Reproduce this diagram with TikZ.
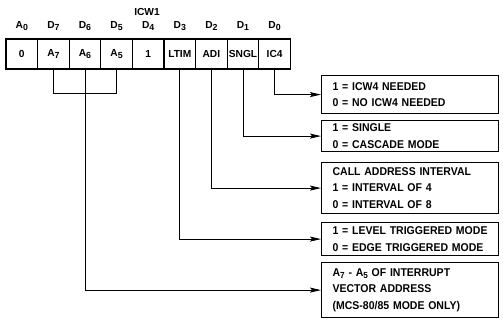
\documentclass[tikz,border=0pt]{standalone}
\usepackage{fontspec}
\setmainfont{Liberation Sans}
\newfontfamily\boxfont{Liberation Sans}[FakeStretch=0.93]
\usetikzlibrary{arrows.meta}
\newcommand{\lsub}[1]{\raisebox{-0.35ex}{\fontsize{8.8}{9}\selectfont #1}}
\tikzset{
  cell/.style={draw, line width=1.2pt, minimum width=31.6pt, minimum height=30pt, inner sep=0pt,
    font=\fontsize{10.2}{12}\selectfont\bfseries},
  hdr/.style={inner sep=0pt, font=\fontsize{10.2}{12}\selectfont\bfseries},
  infobox/.style={draw, line width=1.2pt, anchor=north west, minimum width=177pt,
    text width=155pt, inner xsep=11pt, inner ysep=0pt, align=left,
    font=\boxfont\fontsize{11.3}{16.5}\selectfont\bfseries},
  link/.style={line width=0.9pt},
  arr/.style={line width=0.9pt, -{Stealth[length=11pt,width=5pt,inset=2pt]}}
}
\begin{document}
\begin{tikzpicture}[x=1pt,y=-1pt]
\useasboundingbox (0,0) rectangle (503,321);
% register cells
\node[cell] (c0) at (21.8,54) {0};
\node[cell] (a7) at (53.4,54) {A\lsub{7}};
\node[cell] (a6) at (85,54) {A\lsub{6}};
\node[cell] (a5) at (116.6,54) {A\lsub{5}};
\node[cell] (d4) at (148.2,54) {1};
\node[cell] (ltim) at (179.8,54) {LTIM};
\node[cell] (adi) at (211.4,54) {ADI};
\node[cell] (sngl) at (243,54) {SNGL};
\node[cell] (ic4) at (274.6,54) {IC4};
% headers
\node[hdr] (icw) at (147,12) {ICW1};
\node[hdr] (h0) at (21.8,26) {A\lsub{0}};
\node[hdr] (h7) at (53.4,26) {D\lsub{7}};
\node[hdr] (h6) at (85,26) {D\lsub{6}};
\node[hdr] (h5) at (116.6,26) {D\lsub{5}};
\node[hdr] (h4) at (148.2,26) {D\lsub{4}};
\node[hdr] (h3) at (179.8,26) {D\lsub{3}};
\node[hdr] (h2) at (211.4,26) {D\lsub{2}};
\node[hdr] (h1) at (243,26) {D\lsub{1}};
\node[hdr] (hz) at (274.6,26) {D\lsub{0}};
% info boxes
\node[infobox, minimum height=38pt] (b1) at (321,75) {1 = ICW4 NEEDED\\0 = NO ICW4 NEEDED};
\node[infobox, minimum height=31pt] (b2) at (321,120) {1 = SINGLE\\0 = CASCADE MODE};
\node[infobox, minimum height=51pt] (b3) at (321,162) {CALL ADDRESS INTERVAL\\1 = INTERVAL OF 4\\0 = INTERVAL OF 8};
\node[infobox, minimum height=33pt] (b4) at (321,222) {1 = LEVEL TRIGGERED MODE\\0 = EDGE TRIGGERED MODE};
\node[infobox, minimum height=55pt] (b5) at (321,262) {A\lsub{7} - A\lsub{5} OF INTERRUPT\\VECTOR ADDRESS\\(MCS-80/85 MODE ONLY)};
% connectors
\draw[arr] (ic4.south) |- (b1.west);
\draw[arr] (sngl.south) |- (b2.west);
\draw[arr] (adi.south) |- (b3.west);
\draw[arr] (ltim.south) |- (b4.west);
\draw[link] (a7.south) -- ++(0,24) coordinate (brk) -| (a5.south);
\draw[arr] (a6.south) |- (b5.west);
\end{tikzpicture}
\end{document}
